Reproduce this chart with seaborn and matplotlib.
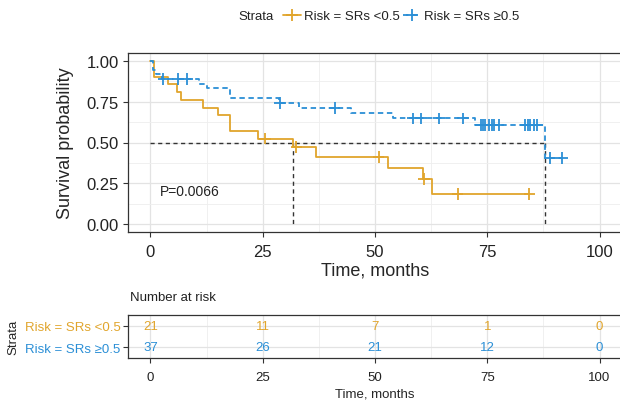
import numpy as np
import pandas as pd
import seaborn as sns
import matplotlib.pyplot as plt
from matplotlib.lines import Line2D
from matplotlib.ticker import MultipleLocator

# Strata names and colours
groups = ['Risk = SRs <0.5', 'Risk = SRs \u22650.5']
colors = ['#E1A52C', '#2B8FD6']

# Follow-up times (months) and event flags (1 = death, 0 = censored)
low_time = [0.8, 0.8, 3.9, 5.9, 6.8, 11.6, 15.0, 17.7, 17.7, 23.9, 25.5,
            31.8, 32.5, 36.9, 50.8, 52.9, 60.6, 60.9, 62.7, 68.4, 84.4]
low_event = [1, 1, 1, 1, 1, 1, 1, 1, 1, 1, 0,
             1, 0, 1, 0, 1, 1, 0, 1, 0, 0]
high_time = [0.5, 0.5, 1.2, 2.5, 2.9, 6.1, 8.1, 10.7, 12.7, 17.7, 17.7,
             28.6, 28.9, 33.0, 41.0, 44.7, 54.0, 58.5, 60.2, 64.3, 69.6,
             72.3, 73.5, 74.0, 74.6, 75.3, 76.0, 76.5, 77.5, 83.5, 84.0,
             84.6, 85.5, 86.1, 87.8, 88.9, 91.7]
high_event = [1, 1, 1, 1, 0, 0, 0, 1, 1, 1, 1,
              1, 0, 1, 0, 1, 1, 0, 0, 0, 0,
              1, 0, 0, 0, 0, 0, 0, 0, 0, 0,
              0, 0, 0, 1, 0, 0]

p_text = 'P=0.0066'
risk_times = [0, 25, 50, 75, 100]


def km(times, events):
    t = np.array(times)
    e = np.array(events)
    steps_t, steps_s = [0.0], [1.0]
    s = 1.0
    for ut in np.unique(t[e == 1]):
        n = (t >= ut).sum()
        d = ((t == ut) & (e == 1)).sum()
        s *= 1 - d / n
        steps_t.append(ut)
        steps_s.append(s)
    steps_t.append(t.max())
    steps_s.append(s)
    steps_t = np.array(steps_t)
    steps_s = np.array(steps_s)
    # survival value at censor times
    ct = t[e == 0]
    cs = np.array([steps_s[np.searchsorted(steps_t[:-1], c, side='right') - 1] for c in ct])
    return steps_t, steps_s, ct, cs


curves, cens = [], []
medians = []
at_risk = {}
for name, tt, ee in [(groups[0], low_time, low_event), (groups[1], high_time, high_event)]:
    st, ss, ct, cs = km(tt, ee)
    curves.append(pd.DataFrame({'time': st, 'surv': ss, 'strata': name}))
    cens.append(pd.DataFrame({'time': ct, 'surv': cs, 'strata': name}))
    below = st[ss <= 0.5]
    medians.append(below[0] if len(below) else np.nan)
    at_risk[name] = [int((np.array(tt) >= r).sum()) for r in risk_times]

curve_df = pd.concat(curves, ignore_index=True)
cens_df = pd.concat(cens, ignore_index=True)

sns.set_theme(style='white')
plt.rcParams['font.family'] = ['Liberation Sans', 'DejaVu Sans']
plt.rcParams['text.color'] = '#222222'

fig = plt.figure(figsize=(6.2, 4.02), dpi=100)
ax = fig.add_axes([128 / 620, 1 - 233 / 402, 494 / 620, 179 / 402])
palette = dict(zip(groups, colors))

sns.lineplot(data=curve_df, x='time', y='surv', hue='strata', style='strata',
             palette=palette, dashes={groups[0]: '', groups[1]: (3, 2)},
             drawstyle='steps-post', estimator=None, sort=False,
             linewidth=1.3, legend=False, ax=ax, zorder=3)
sns.scatterplot(data=cens_df, x='time', y='surv', hue='strata', palette=palette,
                marker='+', s=70, linewidth=1.3, legend=False, ax=ax, zorder=4)

# median survival lines
med_max = np.nanmax(medians)
ax.plot([0, med_max], [0.5, 0.5], ls=(0, (3, 2.5)), color='#333333', lw=1.0, zorder=2)
for m in medians:
    ax.plot([m, m], [0.5, 0], ls=(0, (3, 2.5)), color='#333333', lw=1.0, zorder=2)

ax.text(2.2, 0.2, p_text, fontsize=10, va='center', ha='left')

ax.set_xlim(-5, 105)
ax.set_ylim(-0.05, 1.05)
ax.set_xticks([0, 25, 50, 75, 100])
ax.set_yticks([0, 0.25, 0.5, 0.75, 1.0])
ax.set_yticklabels(['0.00', '0.25', '0.50', '0.75', '1.00'])
ax.xaxis.set_minor_locator(MultipleLocator(12.5))
ax.yaxis.set_minor_locator(MultipleLocator(0.125))
ax.grid(True, which='major', color='#E3E3E3', lw=0.9)
ax.grid(True, which='minor', color='#EEEEEE', lw=0.6)
ax.set_axisbelow(True)
ax.tick_params(axis='both', which='major', labelsize=12, length=3.5, width=0.8,
               color='#333333', direction='out', pad=3, bottom=True, left=True,
               labelcolor='#222222')
ax.tick_params(axis='x', pad=5)
ax.tick_params(which='minor', length=0)
for sp in ax.spines.values():
    sp.set_color('#333333')
    sp.set_linewidth(0.9)
ax.set_xlabel('Time, months', fontsize=13, labelpad=2)
ax.set_ylabel('Survival probability', fontsize=13, labelpad=9)

# legend
handles = [Line2D([], [], color=colors[0], lw=1.3, marker='+', ms=8, mew=1.3),
           Line2D([], [], color=colors[1], lw=1.3, ls=(0, (3, 2)), marker='+', ms=8, mew=1.3)]
fig.text(238 / 620, 1 - 17 / 402, 'Strata', fontsize=9.5, va='center', ha='left')
fig.legend(handles, groups, loc='center left', bbox_to_anchor=(283 / 620, 1 - 17 / 402),
           ncol=2, frameon=False, fontsize=9.5, handlelength=1.4, handletextpad=0.2,
           columnspacing=0.2, borderpad=0, borderaxespad=0)

# risk table
ax2 = fig.add_axes([128 / 620, 1 - 359 / 402, 494 / 620, 43.2 / 402])
for i, g in enumerate(groups):
    for r, n in zip(risk_times, at_risk[g]):
        ax2.text(r, i + 1, str(n), color=colors[i], fontsize=9.5, ha='center', va='center')
ax2.set_xlim(-5, 105)
ax2.set_ylim(2.5, 0.5)
ax2.set_xticks(risk_times)
ax2.set_yticks([1, 2])
ax2.set_yticklabels(groups)
for lab, c in zip(ax2.get_yticklabels(), colors):
    lab.set_color(c)
ax2.xaxis.set_minor_locator(MultipleLocator(12.5))
ax2.grid(True, which='major', color='#E3E3E3', lw=0.9)
ax2.grid(True, which='minor', axis='x', color='#EEEEEE', lw=0.6)
ax2.set_axisbelow(True)
ax2.tick_params(axis='both', which='major', labelsize=9.5, length=3.5, width=0.8,
                color='#333333', direction='out', pad=2, bottom=True, left=True)
ax2.tick_params(axis='x', labelcolor='#222222', pad=6)
ax2.tick_params(which='minor', length=0)
for sp in ax2.spines.values():
    sp.set_color('#333333')
    sp.set_linewidth(0.9)
ax2.set_xlabel('Time, months', fontsize=9.5, labelpad=3)
ax2.set_ylabel('Strata', fontsize=9.5, labelpad=4)
fig.text(130 / 620, 1 - 298 / 402, 'Number at risk', fontsize=9.5, va='center', ha='left')

fig.savefig('out.png', dpi=100)
